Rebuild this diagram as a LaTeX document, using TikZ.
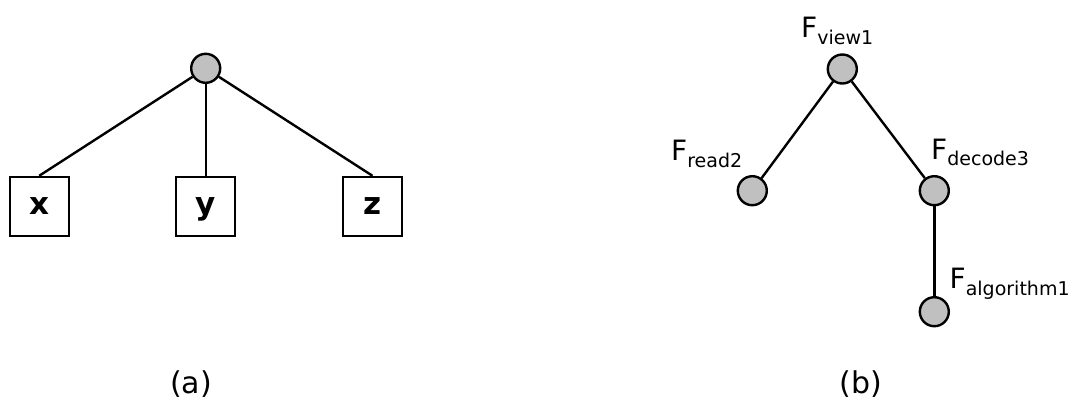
\documentclass[tikz,border=0pt]{standalone}
\usepackage{fontspec}
\setmainfont{DejaVu Sans}
\definecolor{nodegray}{RGB}{192,192,192}
\newcommand{\fname}[1]{{\fontsize{28}{28}\selectfont F}\raisebox{-6.5pt}{\fontsize{19}{19}\selectfont #1}}
\begin{document}
\begin{tikzpicture}[x=1pt,y=-1pt,
  vertex/.style={circle,draw=black,line width=2.4pt,fill=nodegray,minimum size=29pt,inner sep=0pt},
  leafbox/.style={rectangle,draw=black,line width=2.4pt,minimum size=59pt,inner sep=0pt,
    text depth=0pt,font=\fontsize{31}{31}\selectfont\bfseries},
  edge/.style={draw=black,line width=2.4pt},
  flabel/.style={anchor=base west,inner sep=0pt},
  caption/.style={font=\fontsize{30}{30}\selectfont}]
\useasboundingbox (0,0) rectangle (1074,405);

% (a) a root with three leaves
\node[vertex] (r) at (205.7,68.3) {};
\node[leafbox] (x) at (39.2,206.5) {x};
\node[leafbox] (y) at (205.7,206.5) {y};
\node[leafbox] (z) at (372.5,206.5) {z};
\draw[edge] (r) -- (x.north);
\draw[edge] (r) -- (y.north);
\draw[edge] (r) -- (z.north);
\node[caption] (ca) at (191,384) {(a)};

% (b) the call tree
\node[vertex] (v1) at (842.3,69) {};
\node[vertex] (r2) at (752.3,190.7) {};
\node[vertex] (d3) at (934.3,190.7) {};
\node[vertex] (a1) at (934.3,311.7) {};
\draw[edge] (v1) -- (r2);
\draw[edge] (v1) -- (d3);
\draw[edge] (d3) -- (a1);
\node[flabel] (lv1) at (801,37.5) {\fname{view1}};
\node[flabel] (lr2) at (671,160.5) {\fname{read2}};
\node[flabel] (ld3) at (931,159) {\fname{decode3}};
\node[flabel] (la1) at (949.5,288.5) {\fname{algorithm1}};
\node[caption] (cb) at (861,384) {(b)};
\end{tikzpicture}
\end{document}
